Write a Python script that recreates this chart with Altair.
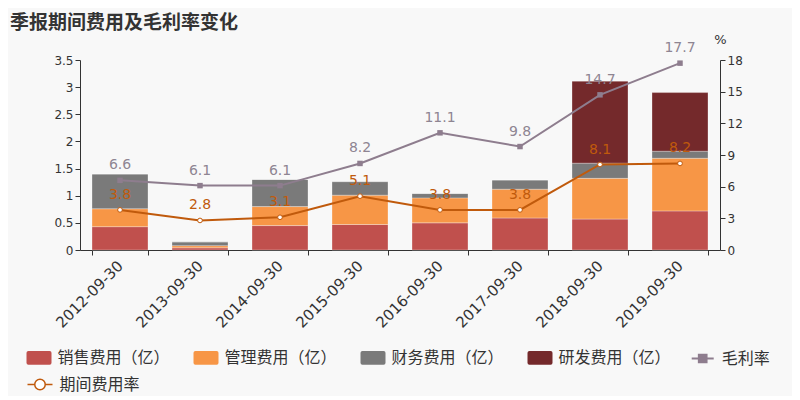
import altair as alt
import pandas as pd

dates = ["2012-09-30", "2013-09-30", "2014-09-30", "2015-09-30",
         "2016-09-30", "2017-09-30", "2018-09-30", "2019-09-30"]
sales = [0.43, 0.04, 0.45, 0.47, 0.50, 0.59, 0.57, 0.72]
mgmt = [0.33, 0.04, 0.35, 0.54, 0.46, 0.53, 0.75, 0.97]
finance = [0.64, 0.07, 0.50, 0.25, 0.08, 0.17, 0.28, 0.13]
rnd = [0.0, 0.0, 0.0, 0.0, 0.0, 0.0, 1.51, 1.08]
gross_margin = [6.6, 6.1, 6.1, 8.2, 11.1, 9.8, 14.7, 17.7]
expense_rate = [3.8, 2.8, 3.1, 5.1, 3.8, 3.8, 8.1, 8.2]

bar_names = ["销售费用（亿）", "管理费用（亿）", "财务费用（亿）", "研发费用（亿）"]
bar_colors = ["#c0504d", "#f79646", "#7a7a7a", "#74292b"]
margin_name = "毛利率"
expense_name = "期间费用率"
margin_color = "#8e7d8e"
margin_label_color = "#8e8592"
expense_color = "#c05a0c"

bar_rows = []
for series_values, name, order in zip([sales, mgmt, finance, rnd], bar_names, range(4)):
    for d, v in zip(dates, series_values):
        bar_rows.append({"date": d, "series": name, "value": v, "ord": order})
bars_df = pd.DataFrame(bar_rows)

rate_rows = []
for d, v in zip(dates, gross_margin):
    rate_rows.append({"date": d, "kind": margin_name, "rate": v})
for d, v in zip(dates, expense_rate):
    rate_rows.append({"date": d, "kind": expense_name, "rate": v})
rate_df = pd.DataFrame(rate_rows)

RECT_PATH = ("M-0.85,-0.55H0.85Q1,-0.55,1,-0.4V0.4Q1,0.55,0.85,0.55H-0.85"
             "Q-1,0.55,-1,0.4V-0.4Q-1,-0.55,-0.85,-0.55Z")
LINE_SQ = "M-1,0H1M-0.35,-0.35H0.35V0.35H-0.35Z"
LINE_CIRC = ("M-1,0H-0.42M0.42,0H1M-0.42,0A0.42,0.42,0,1,1,0.42,0"
             "A0.42,0.42,0,1,1,-0.42,0Z")

TXT = "#333333"
NUM_FONT = "DejaVu Sans"
CJK_FONT = "Noto Sans CJK SC"

x_enc = alt.X(
    "date:N", sort=dates,
    scale=alt.Scale(paddingInner=0.3, paddingOuter=0.15),
    axis=alt.Axis(title=None, labelAngle=315, labelFontSize=15, labelColor=TXT,
                  labelFont=NUM_FONT, domainColor=TXT, tickColor=TXT, tickSize=5,
                  tickBand="extent", labelPadding=3, labelOffset=-5, grid=False),
)

bars = alt.Chart(bars_df).mark_bar(stroke="#ffffff", strokeWidth=0.6, strokeOpacity=0.5).encode(
    x=x_enc,
    y=alt.Y("value:Q", stack="zero",
            scale=alt.Scale(domain=[0, 3.5], nice=False),
            axis=alt.Axis(title=None, orient="left", values=[0, 0.5, 1, 1.5, 2, 2.5, 3, 3.5],
                          format="~g", labelFontSize=12, labelColor=TXT, labelFont=NUM_FONT,
                          domainColor=TXT, tickColor=TXT, tickSize=5, grid=False)),
    color=alt.Color("series:N",
                    scale=alt.Scale(domain=bar_names, range=bar_colors),
                    legend=alt.Legend(title=None, orient="none", legendX=-53.5, legendY=285,
                                      direction="horizontal", columns=4, columnPadding=23,
                                      symbolType=RECT_PATH, symbolSize=625, symbolStrokeWidth=0,
                                      labelFontSize=16, labelFont=CJK_FONT, labelColor=TXT,
                                      labelOffset=6, labelLimit=300)),
    order=alt.Order("ord:Q", sort="ascending"),
)

y_rate = alt.Y("rate:Q",
               scale=alt.Scale(domain=[0, 18], nice=False),
               axis=alt.Axis(title="%", orient="right", values=[0, 3, 6, 9, 12, 15, 18],
                             titleAngle=0, titleX=0, titleY=-21, titleAlign="center",
                             titleBaseline="middle", titleFontSize=13, titleFont=NUM_FONT,
                             titleColor=TXT, titleFontWeight="normal",
                             labelFontSize=12, labelColor=TXT, labelFont=NUM_FONT,
                             domainColor=TXT, tickColor=TXT, tickSize=5, grid=False))

m_base = alt.Chart(rate_df).transform_filter(alt.datum.kind == margin_name)
m_line = m_base.mark_line(strokeWidth=2).encode(
    x=x_enc, y=y_rate,
    color=alt.Color("kind:N", scale=alt.Scale(domain=[margin_name], range=[margin_color]),
                    legend=alt.Legend(title=None, orient="none", legendX=610.7, legendY=286.5,
                                      symbolType=LINE_SQ, symbolSize=484, symbolStrokeWidth=2,
                                      symbolFillColor=margin_color,
                                      labelFontSize=16, labelFont=CJK_FONT, labelColor=TXT,
                                      labelOffset=7)),
)
m_pts = m_base.mark_point(shape="square", filled=True, size=30, color=margin_color, opacity=1).encode(
    x=x_enc, y=y_rate)
m_txt = m_base.mark_text(dy=-15, fontSize=14, font=NUM_FONT, color=margin_label_color).encode(
    x=x_enc, y=y_rate, text=alt.Text("rate:Q", format=".1f"))

e_base = alt.Chart(rate_df).transform_filter(alt.datum.kind == expense_name)
e_line = e_base.mark_line(strokeWidth=2).encode(
    x=x_enc, y=y_rate,
    color=alt.Color("kind:N", scale=alt.Scale(domain=[expense_name], range=[expense_color]),
                    legend=alt.Legend(title=None, orient="none", legendX=-53.5, legendY=311,
                                      symbolType=LINE_CIRC, symbolSize=625, symbolStrokeWidth=1.5,
                                      symbolFillColor="#ffffff",
                                      labelFontSize=16, labelFont=CJK_FONT, labelColor=TXT,
                                      labelOffset=6)),
)
e_pts = e_base.mark_point(shape="circle", filled=True, size=22, fill="#ffffff",
                          stroke=expense_color, strokeWidth=1, opacity=1).encode(x=x_enc, y=y_rate)
e_txt = e_base.mark_text(dy=-15, fontSize=14, font=NUM_FONT, color=expense_color).encode(
    x=x_enc, y=y_rate, text=alt.Text("rate:Q", format=".1f"))

margin_layer = alt.layer(m_line, m_pts, m_txt)
expense_layer = alt.layer(e_line, e_pts, e_txt)
rates = alt.layer(margin_layer, expense_layer).resolve_scale(color="independent")

chart = alt.layer(bars, rates).resolve_scale(y="independent", color="independent").properties(
    width=640, height=190,
    title=alt.TitleParams("季报期间费用及毛利率变化", anchor="start", frame="group", fontSize=19,
                          fontWeight="bold", font=CJK_FONT, color=TXT, dx=-70, dy=4),
    padding={"left": 72, "top": 52, "right": 72, "bottom": 146},
    autosize=alt.AutoSizeParams(type="none"),
    background="#f8f8f8",
).configure_view(stroke=None)

chart.save("out.html", embed_options={"renderer": "svg", "actions": False})
